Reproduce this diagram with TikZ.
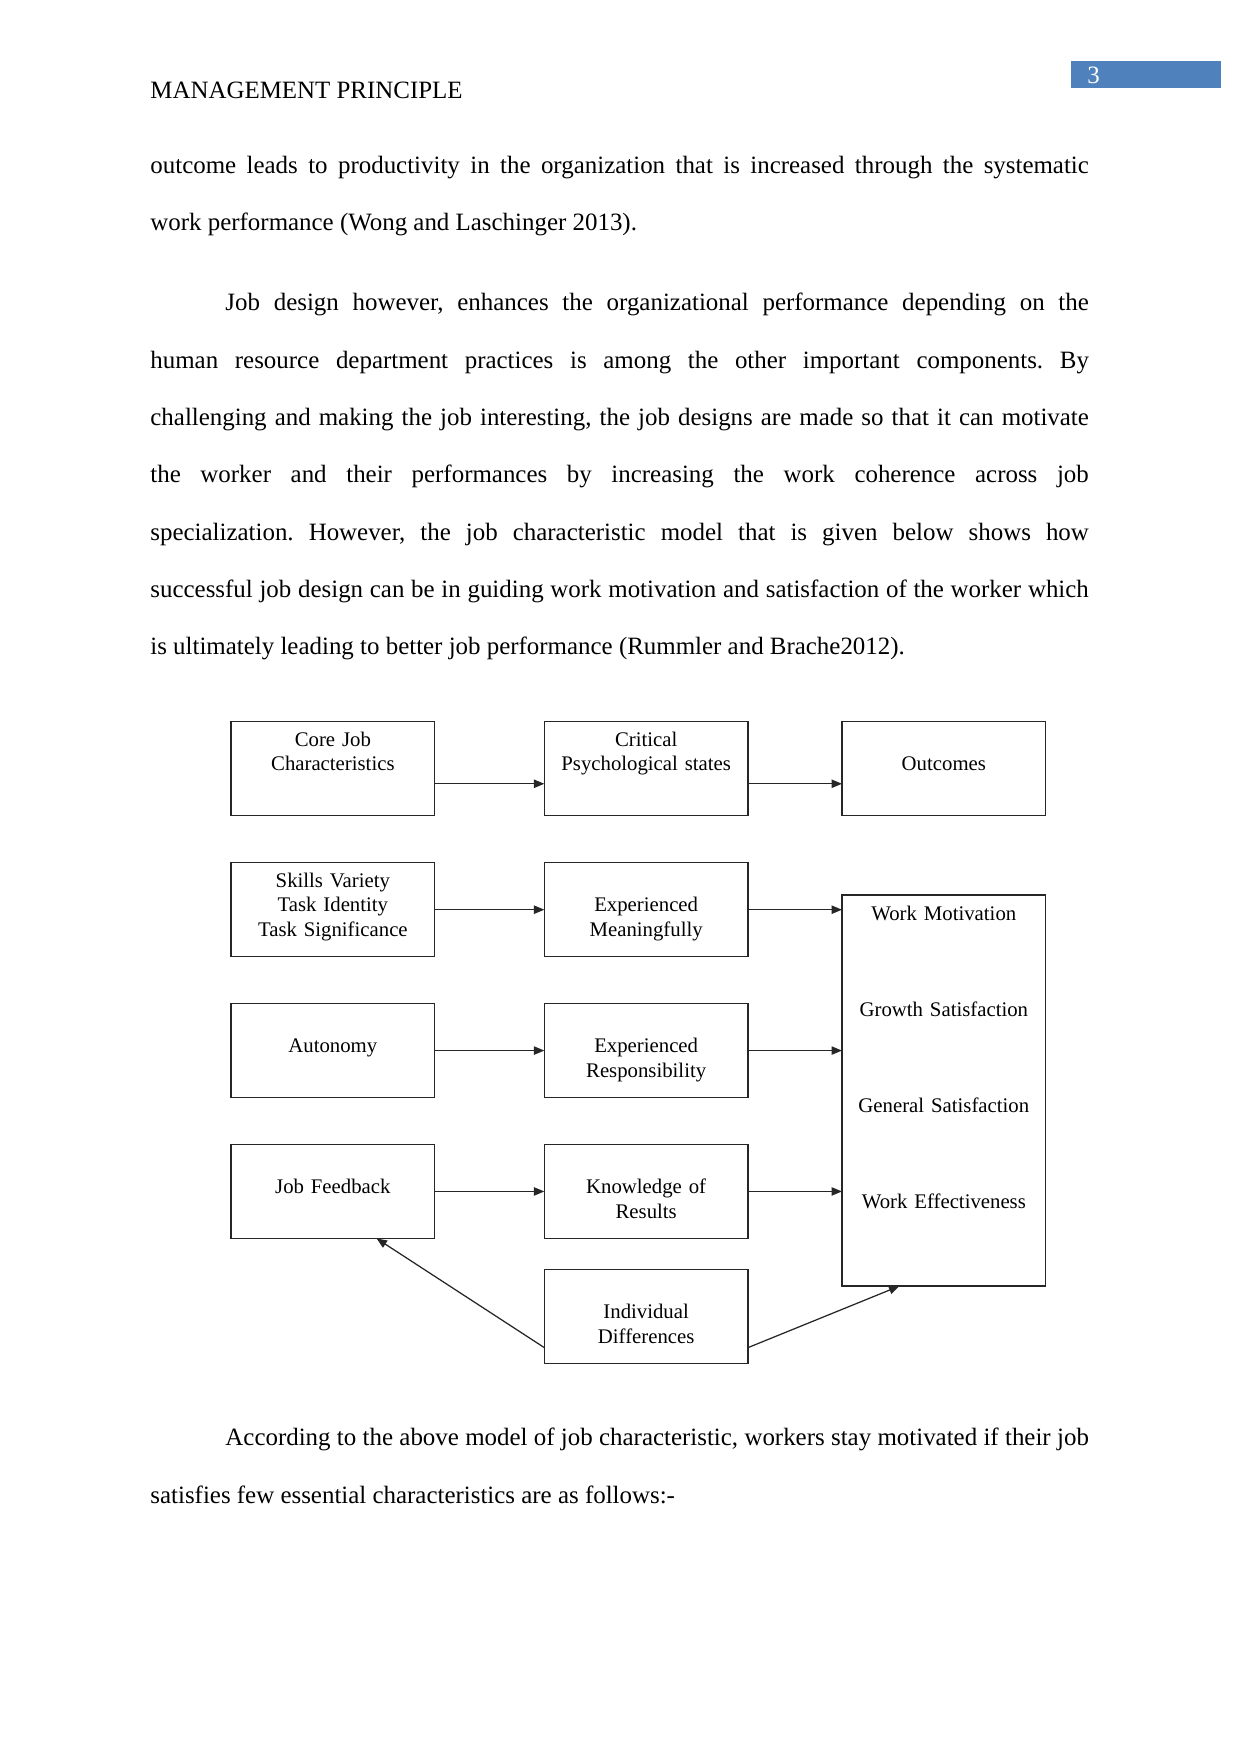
\documentclass[tikz,border=0pt]{standalone}
\usepackage{fontspec}
\setmainfont{Liberation Serif}
\usepackage{xcolor}
\usetikzlibrary{positioning,arrows.meta}
\definecolor{pagebar}{RGB}{79,129,189}
\newcommand{\paratext}{\fontsize{12pt}{27.6pt}\selectfont}
\newcommand{\diagtext}{\fontsize{10pt}{11.8pt}\selectfont}
\tolerance=10000
\hyphenpenalty=10000
\frenchspacing

\begin{document}
\begin{tikzpicture}[
    x=0.16922mm, y=-0.16922mm,
    para/.style={
        anchor=base west,
        inner sep=0pt,
        text width=158.8mm,
        align=justify,
        font=\paratext
    },
    box/.style={
        draw=black!85,
        line width=0.6pt,
        rectangle,
        inner sep=0pt,
        outer sep=0pt,
        minimum width=34.47mm,
        minimum height=15.91mm,
        text width=34.47mm,
        align=center,
        font=\diagtext,
        text height=11.8pt,
        text depth=33.3pt
    },
    low/.style={
        text height=23.6pt,
        text depth=21.5pt
    },
    arrow/.style={
        -{Triangle[length=5pt,width=4pt]},
        line width=0.6pt,
        draw=black!85
    },
    node distance=18.55mm
]

\useasboundingbox[fill=white] (0,0) rectangle (1241,1754);

\node[anchor=base west, inner sep=0pt, font=\paratext] (header) at (150,98.6) {MANAGEMENT PRINCIPLE};
\node[fill=pagebar, anchor=north west, minimum width=25.38mm, minimum height=4.57mm,
    inner xsep=2.7mm, inner ysep=0pt, text width=19.98mm, align=left,
    text=white, font=\fontsize{12pt}{14pt}\selectfont] (pagenum) at (1071,61) {3};

\node[para] (para1) at (150,173.6) {outcome leads to productivity in the organization that is increased through the systematic\linebreak
work performance (Wong and Laschinger 2013).};

\node[para] (para2) at (150,311) {\hspace*{0.5in}Job design however, enhances the organizational performance depending on the\linebreak
human resource department practices is among the other important components. By\linebreak
challenging and making the job interesting, the job designs are made so that it can motivate\linebreak
the worker and their performances by increasing the work coherence across job\linebreak
specialization. However, the job characteristic model that is given below shows how\linebreak
successful job design can be in guiding work motivation and satisfaction of the worker which\linebreak
is ultimately leading to better job performance (Rummler and Brache2012).};

\node[box, anchor=north west] (core) at (231,721.8) {Core Job\\Characteristics};
\node[box, right=of core] (critical) {Critical\\Psychological states};
\node[box, low, right=15.9mm of critical] (outcomes) {Outcomes};
\node[box, below=7.93mm of core] (skills) {Skills Variety\\Task Identity\\Task Significance};
\node[box, low, right=of skills] (meaning) {Experienced\\Meaningfully};
\node[box, low, below=7.93mm of skills] (autonomy) {Autonomy};
\node[box, low, right=of autonomy] (respons) {Experienced\\Responsibility};
\node[box, low, below=7.93mm of autonomy] (feedback) {Job Feedback};
\node[box, low, right=of feedback] (knowledge) {Knowledge of\\Results};
\node[box, low, below=5.3mm of knowledge] (indiv) {Individual\\Differences};
\node[box, below=13.38mm of outcomes, minimum height=66.2mm, text height=12pt,
    text depth=175.6pt, font=\fontsize{10pt}{46.2pt}\selectfont] (results)
    {Work Motivation\\Growth Satisfaction\\General Satisfaction\\Work Effectiveness};

\draw[arrow] ([yshift=-7.2pt]core.east) -- ([yshift=-7.2pt]critical.west);
\draw[arrow] ([yshift=-7.2pt]critical.east) -- ([yshift=-7.2pt]outcomes.west);
\draw[arrow] (skills) -- (meaning);
\draw[arrow] (meaning.east) -- (meaning.east -| results.west);
\draw[arrow] (autonomy) -- (respons);
\draw[arrow] (respons.east) -- (respons.east -| results.west);
\draw[arrow] (feedback) -- (knowledge);
\draw[arrow] (knowledge.east) -- (knowledge.east -| results.west);
\draw[arrow] ([yshift=7.8pt]indiv.south west) -- ([xshift=70.1pt]feedback.south west);
\draw[arrow] ([yshift=7.8pt]indiv.south east) -- ([xshift=27.6pt]results.south west);

\node[para] (para3) at (150,1445.7) {\hspace*{0.5in}According to the above model of job characteristic, workers stay motivated if their job\linebreak
satisfies few essential characteristics are as follows:-};

\end{tikzpicture}
\end{document}
